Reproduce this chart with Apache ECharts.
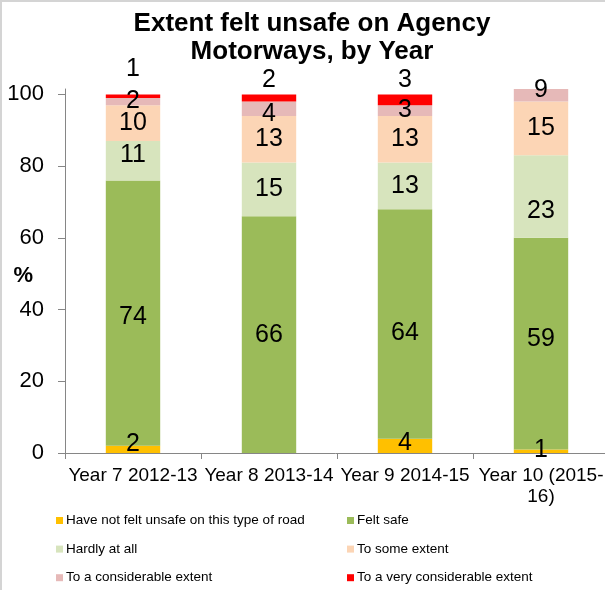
<!DOCTYPE html>
<html>
<head>
<meta charset="utf-8">
<script src="https://cdn.jsdelivr.net/npm/echarts@6/dist/echarts.min.js"></script>
<style>
  html, body { margin: 0; padding: 0; background: #fff; }
  #chart { position: absolute; left: 0; top: 0; width: 605px; height: 590px; }
  #frame { position: absolute; left: 0; top: 0; width: 605px; height: 590px; box-sizing: border-box;
           border-left: 2px solid #d4d4d4; border-top: 2px solid #d4d4d4; pointer-events: none; }
</style>
</head>
<body>
<div id="chart"></div>
<div id="frame"></div>
<script>
// Survey years (x axis)
const categories = ['Year 7 2012-13', 'Year 8 2013-14', 'Year 9 2014-15', 'Year 10 (2015-\n16)'];

// Response shares (%) per year, bottom to top of each stack
const seriesNames = [
  'Have not felt unsafe on this type of road',
  'Felt safe',
  'Hardly at all',
  'To some extent',
  'To a considerable extent',
  'To a very considerable extent'
];
const haveNotFeltUnsafe = [2, 0, 4, 1];
const feltSafe          = [74, 66, 64, 59];
const hardlyAtAll       = [11, 15, 13, 23];
const toSomeExtent      = [10, 13, 13, 15];
const considerable      = [2, 4, 3, 9];
const veryConsiderable  = [1, 2, 3, 0];

const yTickValues = [0, 20, 40, 60, 80, 100];

const seriesValues = [haveNotFeltUnsafe, feltSafe, hardlyAtAll, toSomeExtent, considerable, veryConsiderable];
const colors = ['#FFC000', '#9BBB59', '#D7E4BD', '#FCD5B5', '#E6B9B8', '#FF0000'];

const FONT = "'Liberation Sans', Arial, sans-serif";

// per-point nudges for the value labels: [series index][category index] -> [dx, dy]
const labelNudge = {
  0: { 0: [0, -5], 2: [0, -3], 3: [0, -1] },
  1: { 0: [0, 4], 2: [0, 9], 3: [0, -5] },
  2: { 0: [0, -6], 3: [0, 15] },
  4: { 1: [0, 5], 3: [0, -5] }
};

const series = seriesValues.map((vals, si) => ({
  name: seriesNames[si],
  type: 'bar',
  stack: 'total',
  barWidth: '40%',
  itemStyle: { color: colors[si] },
  label: {
    show: true,
    position: si === 5 ? 'top' : 'inside',
    distance: 2,
    color: '#000',
    fontFamily: FONT,
    fontSize: 25,
    formatter: p => (p.value ? String(p.value) : '')
  },
  data: vals.map((v, ci) => {
    const item = { value: v };
    const n = labelNudge[si] && labelNudge[si][ci];
    if (n) item.label = { offset: n };
    if (si === 5 && ci === 0) item.label = { distance: 13 };
    return item;
  })
}));

const legendBase = {
  orient: 'vertical', top: 513.5, padding: 0,
  icon: 'rect', itemWidth: 7, itemHeight: 7, itemGap: 14.6,
  textStyle: { fontFamily: FONT, fontSize: 13.5, lineHeight: 14, color: '#000', padding: [0, 0, 0, -2] }
};

const chart = echarts.init(document.getElementById('chart'), null, { renderer: 'canvas' });
chart.setOption({
  animation: false,
  backgroundColor: '#fff',
  title: {
    text: 'Extent felt unsafe on Agency\nMotorways, by Year',
    left: 307,
    textAlign: 'center',
    top: 5,
    textStyle: { fontFamily: FONT, fontSize: 26, fontWeight: 'bold', color: '#000', lineHeight: 28 }
  },
  legend: [
    Object.assign({ data: [seriesNames[0], seriesNames[2], seriesNames[4]], left: 56 }, legendBase),
    Object.assign({ data: [seriesNames[1], seriesNames[3], seriesNames[5]], left: 347 }, legendBase)
  ],
  grid: { left: 65, top: 89, width: 544, height: 364, containLabel: false, outerBoundsMode: 'none' },
  xAxis: {
    type: 'category',
    data: categories,
    axisLine: { lineStyle: { color: '#868686', width: 1 } },
    axisTick: { show: true, length: 6, lineStyle: { color: '#868686' } },
    axisLabel: { interval: 0, color: '#000', fontFamily: FONT, fontSize: 19, lineHeight: 21, margin: 12 }
  },
  yAxis: {
    type: 'value',
    min: 0,
    max: 101.5,
    name: '%',
    nameLocation: 'middle',
    nameRotate: 0,
    nameGap: 32,
    nameMoveOverlap: false,
    nameTextStyle: { fontFamily: FONT, fontSize: 22, fontWeight: 'bold', color: '#000',
                     verticalAlign: 'top', lineHeight: 10 },
    splitLine: { show: false },
    axisLine: { show: true, lineStyle: { color: '#868686', width: 1 } },
    axisTick: { show: true, length: 7, customValues: yTickValues, lineStyle: { color: '#868686' } },
    axisLabel: { customValues: yTickValues, color: '#000', fontFamily: FONT, fontSize: 22, margin: 21 }
  },
  series: series
});
</script>
</body>
</html>
